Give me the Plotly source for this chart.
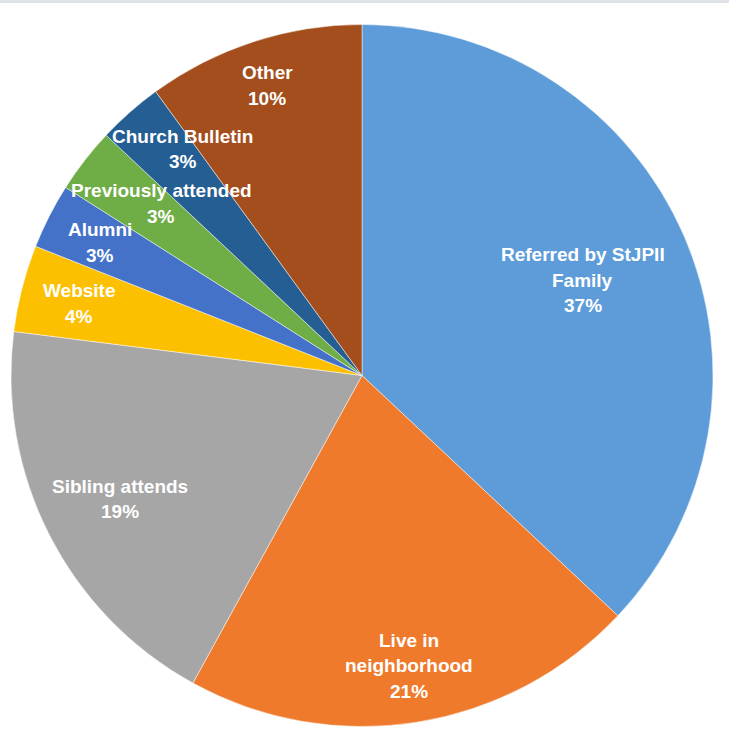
import math
import plotly.graph_objects as go

# ---- data ----
categories = ["Referred by StJPII Family", "Live in neighborhood", "Sibling attends",
              "Website", "Alumni", "Previously attended", "Church Bulletin", "Other"]
values = [37, 21, 19, 4, 3, 3, 3, 10]
label_lines = [["Referred by StJPII", "Family"], ["Live in", "neighborhood"], ["Sibling attends"],
               ["Website"], ["Alumni"], ["Previously attended"], ["Church Bulletin"], ["Other"]]

# ---- style ----
colors = ["#5D9CD8", "#EF7A2B", "#A6A6A6", "#FDC000", "#4472C8", "#6FAD46", "#245E92", "#A34E1C"]
label_radius = [0.685, 0.837, 0.775, 0.832, 0.837, 0.754, 0.823, 0.869]
label_angle_shift = [0.1, -0.2, 0.0, -0.1, -0.1, 2.8, 3.1, -0.1]  # degrees, best-fit placement

W, H = 729, 749
CX, CY, R = 362, 375.5, 351
LINE_GAP = 25.5
FONT = dict(family="Liberation Sans, Arial, sans-serif", size=19, color="white", weight="bold")

fig = go.Figure(go.Pie(
    labels=categories,
    values=values,
    sort=False,
    direction="clockwise",
    rotation=0,
    marker=dict(colors=colors, line=dict(color="rgba(255,255,255,0.6)", width=0.8)),
    textinfo="none",
    hoverinfo="label+percent",
    showlegend=False,
    domain=dict(x=[(CX - R) / W, (CX + R) / W], y=[(H - CY - R) / H, (H - CY + R) / H]),
))

total = sum(values)
cum = 0
annotations = []
for lines, v, f, da in zip(label_lines, values, label_radius, label_angle_shift):
    mid = (cum + v / 2) / total * 2 * math.pi + math.radians(da)
    cum += v
    px = CX + f * R * math.sin(mid)
    py = CY - f * R * math.cos(mid)
    pct = round(v / total * 100)
    all_lines = lines + [f"{pct}%"]
    n = len(all_lines)
    for i, t in enumerate(all_lines):
        ly = py + (i - (n - 1) / 2) * LINE_GAP
        annotations.append(dict(
            x=px / W, y=(H - ly) / H, xref="paper", yref="paper",
            text=t, showarrow=False, xanchor="center", yanchor="middle",
            font=FONT,
        ))

fig.update_layout(
    width=W, height=H,
    margin=dict(l=0, r=0, t=0, b=0),
    paper_bgcolor="white",
    plot_bgcolor="white",
    annotations=annotations,
    shapes=[dict(type="rect", xref="paper", yref="paper", x0=0, x1=1,
                 y0=1 - 3 / H, y1=1, fillcolor="#DEE2E6", line=dict(width=0), layer="above")],
)

fig.write_html("out.html", config={"displayModeBar": False},
               post_script="document.body.style.margin='0';document.body.style.overflow='hidden';")
